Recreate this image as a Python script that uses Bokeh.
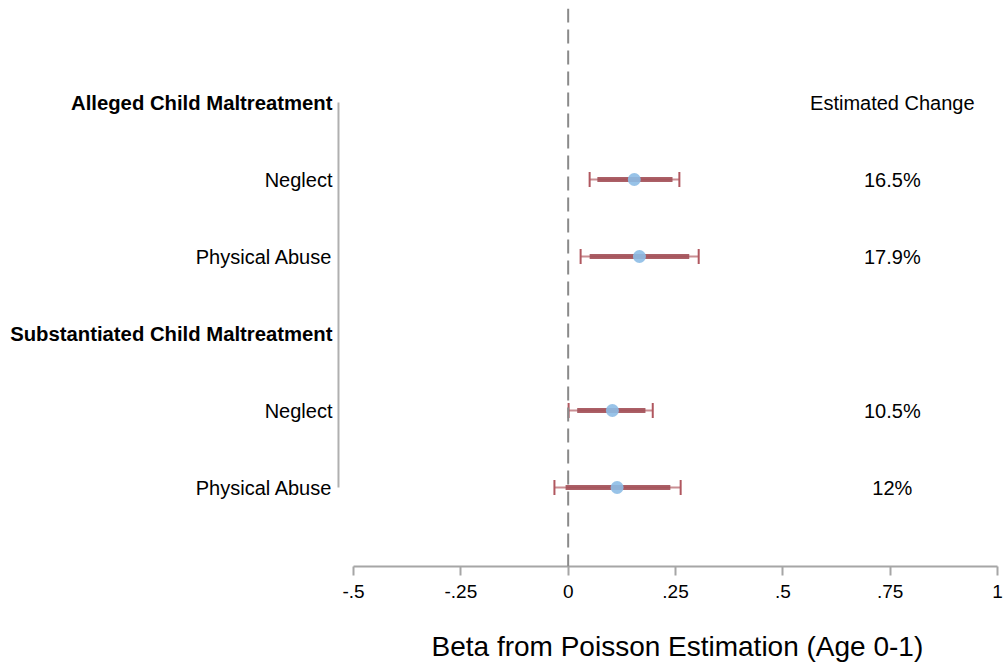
from bokeh.plotting import figure
from bokeh.models import Range1d, FixedTicker, Span, ColumnDataSource, Title
from bokeh.core.properties import value
from bokeh.embed import file_html
from bokeh.resources import INLINE

# ---- data ----
row_labels = ["Alleged Child Maltreatment", "Neglect", "Physical Abuse",
              "Substantiated Child Maltreatment", "Neglect", "Physical Abuse"]
row_bold = [True, False, False, True, False, False]
row_y = [6, 5, 4, 3, 2, 1]

est_y = [5, 4, 2, 1]
beta = [0.154, 0.166, 0.103, 0.114]
ci95_lo = [0.050, 0.029, 0.001, -0.032]
ci95_hi = [0.259, 0.304, 0.197, 0.262]
ci90_lo = [0.068, 0.050, 0.021, -0.006]
ci90_hi = [0.243, 0.282, 0.180, 0.238]
est_change = ["16.5%", "17.9%", "10.5%", "12%"]

x_ticks = [-0.5, -0.25, 0, 0.25, 0.5, 0.75, 1]
x_tick_labels = ["-.5", "-.25", "0", ".25", ".5", ".75", "1"]
x_title = "Beta from Poisson Estimation (Age 0-1)"
change_header = "Estimated Change"

FONT = "Liberation Sans"

p = figure(width=1003, height=670, output_backend="svg", toolbar_location=None,
           x_range=Range1d(-1.3036, 1.0), y_range=Range1d(-0.026, 7.221),
           frame_width=989, frame_height=558,
           min_border_left=8, min_border_right=6, min_border_top=8,
           min_border_bottom=104)
p.outline_line_color = None
p.xgrid.visible = False
p.ygrid.visible = False
p.yaxis.visible = False
p.background_fill_color = "white"
p.border_fill_color = "white"

xa = p.xaxis[0]
xa.bounds = (-0.5, 1)
xa.ticker = FixedTicker(ticks=x_ticks)
xa.major_label_overrides = {t: l for t, l in zip(x_ticks, x_tick_labels)}
xa.minor_tick_line_color = None
xa.axis_line_color = "#a6a6a6"
xa.axis_line_width = 2
xa.major_tick_line_color = "#a6a6a6"
xa.major_tick_line_width = 2
xa.major_tick_out = 9
xa.major_tick_in = 0
xa.major_label_text_font = FONT
xa.major_label_text_font_size = "19px"
xa.major_label_text_color = "black"
xa.major_label_standoff = 9

# axis title, shifted so that it sits centred under the axis extent
p.add_layout(Title(text=x_title, align="left", offset=423, standoff=56,
                   text_font=FONT, text_font_size="28px",
                   text_font_style="normal", text_color="black"), "below")

# zero reference line
p.add_layout(Span(location=0, dimension="height", line_color="#8a8a8a",
                  line_width=2, line_dash="14 7"))

# left rule (category axis line)
p.segment(x0=[-0.535], y0=[min(row_y)], x1=[-0.535], y1=[max(row_y)],
          line_color="#b0b0b0", line_width=2)

# row labels
normal = ColumnDataSource(dict(x=[-0.549] * 4,
                               y=[y for y, b in zip(row_y, row_bold) if not b],
                               t=[l for l, b in zip(row_labels, row_bold) if not b]))
bold = ColumnDataSource(dict(x=[-0.549] * 2,
                             y=[y for y, b in zip(row_y, row_bold) if b],
                             t=[l for l, b in zip(row_labels, row_bold) if b]))
p.text(x="x", y="y", text="t", source=normal, text_align="right",
       text_baseline="middle", text_font=value(FONT), text_font_size="20px",
       text_color="black")
p.text(x="x", y="y", text="t", source=bold, text_align="right",
       text_baseline="middle", text_font=value(FONT), text_font_size="20.3px",
       text_font_style="bold", text_color="black")

src = ColumnDataSource(dict(y=est_y, b=beta, lo95=ci95_lo, hi95=ci95_hi,
                            lo90=ci90_lo, hi90=ci90_hi, lab=est_change,
                            lx=[0.755] * len(est_y)))
# 95% CI thin with caps
p.segment(x0="lo95", y0="y", x1="hi95", y1="y", source=src,
          line_color="#c07a80", line_width=2, line_alpha=0.85)
p.scatter(x="lo95", y="y", source=src, marker="dash", angle=1.5708,
          size=15, line_color="#b0575f", line_width=2)
p.scatter(x="hi95", y="y", source=src, marker="dash", angle=1.5708,
          size=15, line_color="#b0575f", line_width=2)
# 90% CI thick
p.segment(x0="lo90", y0="y", x1="hi90", y1="y", source=src,
          line_color="#a24f57", line_width=5, line_alpha=0.9)
# point estimates
p.scatter(x="b", y="y", source=src, size=13, fill_color="#8dbde6",
          line_color=None, fill_alpha=0.9)

# estimated change column
p.text(x="lx", y="y", text="lab", source=src, text_align="center",
       text_baseline="middle", text_font=value(FONT), text_font_size="20px",
       text_color="black")
p.text(x=[0.755], y=[max(row_y)], text=[change_header], text_align="center",
       text_baseline="middle", text_font=value(FONT), text_font_size="20px",
       text_color="black")

open("out.html", "w").write(file_html(p, INLINE))
